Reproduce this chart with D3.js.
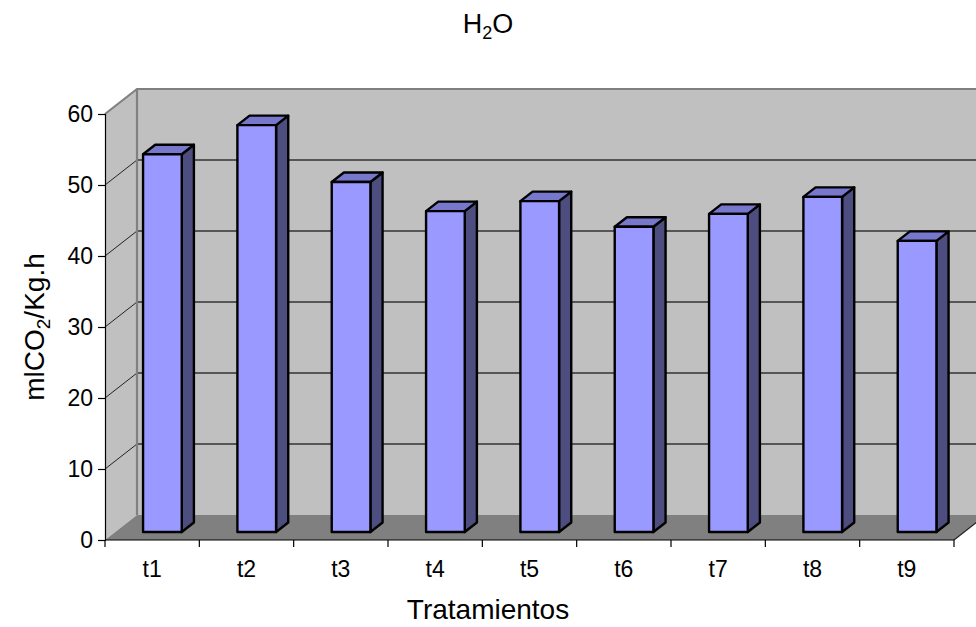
<!DOCTYPE html>
<html><head><meta charset="utf-8">
<script src="https://cdn.jsdelivr.net/npm/d3@7/dist/d3.min.js"></script>
<style>body{margin:0;background:#fff}svg{display:block;font-family:"Liberation Sans",Arial,sans-serif}</style>
</head><body>
<svg id="c" width="976" height="627"></svg>
<script>
const categories = ["t1","t2","t3","t4","t5","t6","t7","t8","t9"];
const values = [53.2, 57.3, 49.3, 45.2, 46.6, 43.0, 44.8, 47.2, 41.0];
const yTicks = [0,10,20,30,40,50,60];

(function(){
const svg = d3.select("#c");
const W = 976;
const pLeft = 105, pRight = 954, pBottom = 540, pTop = 114;
const DX = 32, DY = -25;           // depth of floor/walls
const f0 = 0.32, f1 = 0.70;        // bar depth range (fraction)
const barW = 0.41;

const x = d3.scaleBand().domain(categories).range([pLeft, pRight]).padding(0);
const y = d3.scaleLinear().domain([0, 60]).range([pBottom, pTop]);

const g = svg.append("g");

// back wall
g.append("polygon")
  .attr("points", [[pLeft+DX, y(60)+DY],[W+40, y(60)+DY],[W+40, y(0)+DY],[pLeft+DX, y(0)+DY]].join(" "))
  .attr("fill", "#c0c0c0");
// left wall
g.append("polygon")
  .attr("points", [[pLeft, y(0)],[pLeft, y(60)],[pLeft+DX, y(60)+DY],[pLeft+DX, y(0)+DY]].join(" "))
  .attr("fill", "#c0c0c0");

// gridlines
yTicks.filter(t => t > 0 && t < 60).forEach(t => {
  g.append("line").attr("x1", pLeft+DX).attr("x2", W+40)
    .attr("y1", y(t)+DY).attr("y2", y(t)+DY)
    .attr("stroke", "#333").attr("stroke-width", 1.4);
  g.append("line").attr("x1", pLeft).attr("x2", pLeft+DX)
    .attr("y1", y(t)).attr("y2", y(t)+DY)
    .attr("stroke", "#222").attr("stroke-width", 1);
});

// wall edges
g.append("polyline")
  .attr("points", [[pLeft, y(60)],[pLeft+DX, y(60)+DY],[W+40, y(60)+DY]].join(" "))
  .attr("fill", "none").attr("stroke", "#808080").attr("stroke-width", 2.2);
g.append("line").attr("x1", pLeft+DX).attr("x2", pLeft+DX)
  .attr("y1", y(60)+DY).attr("y2", y(0)+DY)
  .attr("stroke", "#808080").attr("stroke-width", 2.2);

// floor
g.append("polygon")
  .attr("points", [[pLeft, y(0)],[pRight, y(0)],[pRight+DX, y(0)+DY],[pLeft+DX, y(0)+DY]].join(" "))
  .attr("fill", "#808080");
g.append("line").attr("x1", pRight).attr("y1", y(0)).attr("x2", pRight+DX).attr("y2", y(0)+DY)
  .attr("stroke", "#222").attr("stroke-width", 1.2);

// bars
const bw = x.bandwidth()*barW;
const fx = f0*DX, fy = f0*DY;
const bx = (f1-f0)*DX, by = (f1-f0)*DY;
const bars = g.selectAll("g.bar").data(categories.map((c,i)=>({c, v: values[i]}))).join("g").attr("class","bar");
bars.each(function(d){
  const gg = d3.select(this);
  const x0 = x(d.c) + (x.bandwidth()-bw)/2 + fx;
  const x1 = x0 + bw;
  const yTop = y(d.v) + fy, yBot = y(0) + fy;
  const st = {stroke:"#000","stroke-width":2.4,"stroke-linejoin":"round"};
  const ap = (sel)=>{for(const k in st) sel.attr(k, st[k]); return sel;};
  ap(gg.append("polygon").attr("points", [[x1,yTop],[x1+bx,yTop+by],[x1+bx,yBot+by],[x1,yBot]].join(" ")).attr("fill","#4d4d80"));
  ap(gg.append("polygon").attr("points", [[x0,yTop],[x0+bx,yTop+by],[x1+bx,yTop+by],[x1,yTop]].join(" ")).attr("fill","#7777cc"));
  ap(gg.append("rect").attr("x",x0).attr("y",yTop).attr("width",bw).attr("height",yBot-yTop).attr("fill","#9999ff"));
});

// y axis
const yAxis = d3.axisLeft(y).tickValues(yTicks).tickSize(7).tickPadding(5);
const ya = svg.append("g").attr("transform", `translate(${pLeft},0)`).call(yAxis);
ya.select(".domain").attr("stroke","#000").attr("stroke-width",1.2);
ya.selectAll(".tick line").attr("stroke","#000").attr("stroke-width",1.2);
ya.selectAll(".tick text").attr("font-size", 23).attr("fill","#000")
  .attr("font-family",'"Liberation Sans",Arial,sans-serif');

// x axis
svg.append("line").attr("x1", pLeft).attr("x2", pRight).attr("y1", pBottom).attr("y2", pBottom)
  .attr("stroke","#000").attr("stroke-width",1.2);
const edges = categories.map(c => x(c)).concat([pRight]);
svg.selectAll("line.xt").data(edges).join("line").attr("class","xt")
  .attr("x1", d=>d).attr("x2", d=>d).attr("y1", pBottom).attr("y2", pBottom+7)
  .attr("stroke","#000").attr("stroke-width",1.2);
svg.selectAll("text.xl").data(categories).join("text").attr("class","xl")
  .attr("x", d => x(d)+x.bandwidth()/2).attr("y", 577)
  .attr("text-anchor","middle").attr("font-size",23).attr("fill","#000").text(d=>d);

// titles
const t = svg.append("text").attr("x", 488).attr("y", 33).attr("text-anchor","middle")
  .attr("font-size", 27).attr("fill","#000");
t.append("tspan").text("H");
t.append("tspan").attr("font-size", 18).attr("dy", 6).text("2");
t.append("tspan").attr("dy", -6).text("O");

svg.append("text").attr("x", 488).attr("y", 619).attr("text-anchor","middle")
  .attr("font-size", 28).attr("fill","#000").text("Tratamientos");

const ytt = svg.append("text").attr("transform","translate(44,327) rotate(-90)")
  .attr("text-anchor","middle").attr("font-size", 28).attr("fill","#000");
ytt.append("tspan").text("mlCO");
ytt.append("tspan").attr("font-size", 19).attr("dy", 6).text("2");
ytt.append("tspan").attr("dy", -6).text("/Kg.h");
})();
</script>
</body></html>
